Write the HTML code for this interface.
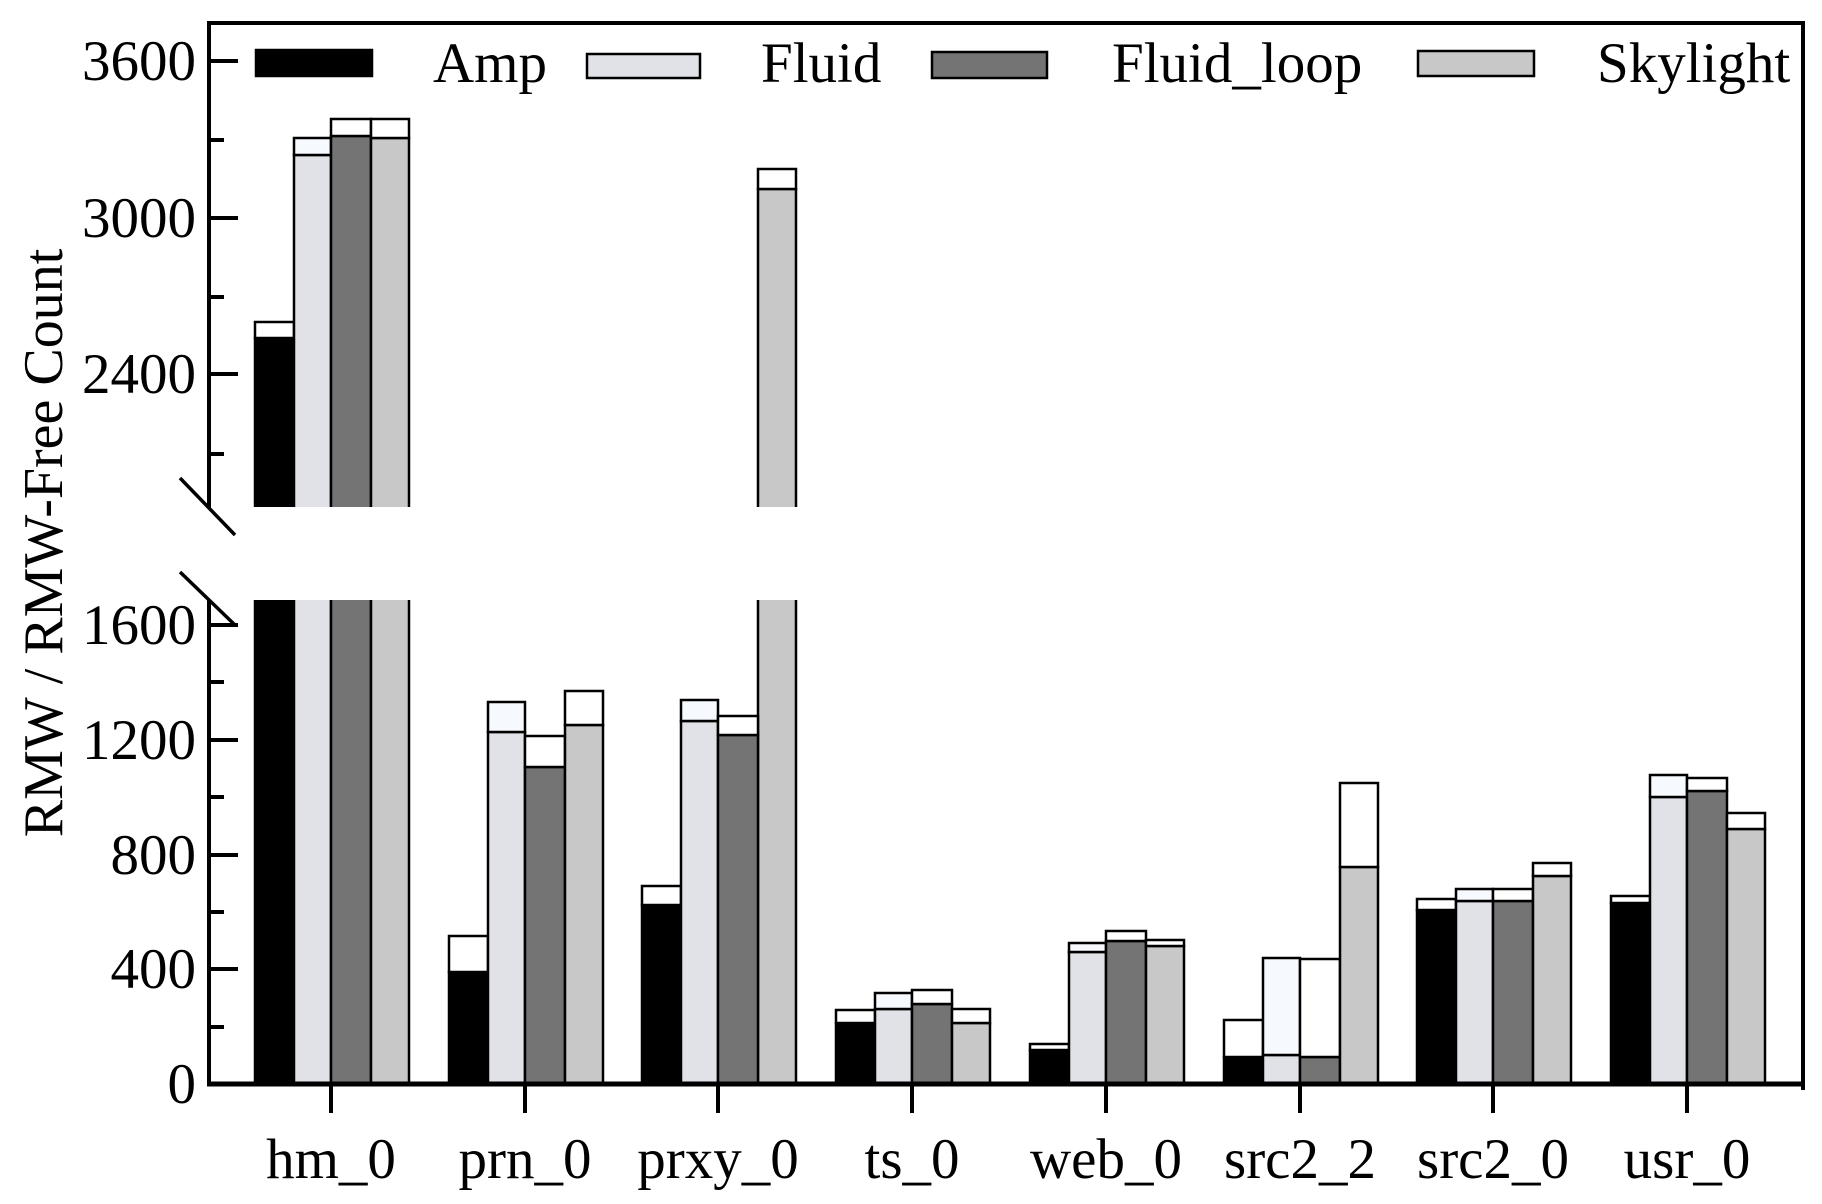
<!DOCTYPE html>
<html><head><meta charset="utf-8"><style>
html,body{margin:0;padding:0;background:#fff}
svg{display:block}
text{font-family:"Liberation Serif",serif;fill:#000}
</style></head><body>
<svg width="1822" height="1204" viewBox="0 0 1822 1204" xmlns="http://www.w3.org/2000/svg">
<defs>
<clipPath id="lo"><rect x="0" y="600" width="1822" height="600"/></clipPath>
<clipPath id="up"><rect x="0" y="0" width="1822" height="507"/></clipPath>
</defs>
<g stroke="#000" stroke-width="2.5">
<g clip-path="url(#up)">
<rect x="255" y="338" width="39" height="200" fill="#000"/><rect x="255" y="322" width="39" height="16" fill="#fff"/>
<rect x="294" y="155" width="37" height="400" fill="#e1e2e7"/><rect x="294" y="138" width="37" height="17" fill="#f6f9fd"/>
<rect x="331" y="136" width="40" height="400" fill="#747474"/><rect x="331" y="119" width="40" height="17" fill="#fff"/>
<rect x="371" y="138" width="38" height="400" fill="#c8c8c8"/><rect x="371" y="119" width="38" height="19" fill="#fff"/>
<rect x="758" y="189" width="38" height="400" fill="#c8c8c8"/><rect x="758" y="169" width="38" height="20" fill="#fff"/>
</g>
<g clip-path="url(#lo)">
<rect x="255" y="580" width="39" height="504" fill="#000"/>
<rect x="294" y="580" width="37" height="504" fill="#e1e2e7"/>
<rect x="331" y="580" width="40" height="504" fill="#747474"/>
<rect x="371" y="580" width="38" height="504" fill="#c8c8c8"/>
<rect x="758" y="580" width="38" height="504" fill="#c8c8c8"/>
</g>
<rect x="449" y="972" width="39" height="112" fill="#000"/><rect x="449" y="936" width="39" height="36" fill="#fff"/>
<rect x="488" y="732" width="37" height="352" fill="#e1e2e7"/><rect x="488" y="702" width="37" height="30" fill="#f6f9fd"/>
<rect x="525" y="767" width="40" height="317" fill="#747474"/><rect x="525" y="736" width="40" height="31" fill="#fff"/>
<rect x="565" y="725" width="38" height="359" fill="#c8c8c8"/><rect x="565" y="691" width="38" height="34" fill="#fff"/>
<rect x="642" y="905" width="39" height="179" fill="#000"/><rect x="642" y="886" width="39" height="19" fill="#fff"/>
<rect x="681" y="721" width="37" height="363" fill="#e1e2e7"/><rect x="681" y="700" width="37" height="21" fill="#f6f9fd"/>
<rect x="718" y="735" width="40" height="349" fill="#747474"/><rect x="718" y="716" width="40" height="19" fill="#fff"/>
<rect x="836" y="1023" width="39" height="61" fill="#000"/><rect x="836" y="1010" width="39" height="13" fill="#fff"/>
<rect x="875" y="1009" width="37" height="75" fill="#e1e2e7"/><rect x="875" y="993" width="37" height="16" fill="#f6f9fd"/>
<rect x="912" y="1004" width="40" height="80" fill="#747474"/><rect x="912" y="990" width="40" height="14" fill="#fff"/>
<rect x="952" y="1023" width="38" height="61" fill="#c8c8c8"/><rect x="952" y="1009" width="38" height="14" fill="#fff"/>
<rect x="1030" y="1050" width="39" height="34" fill="#000"/><rect x="1030" y="1044" width="39" height="6" fill="#fff"/>
<rect x="1069" y="952" width="37" height="132" fill="#e1e2e7"/><rect x="1069" y="943" width="37" height="9" fill="#f6f9fd"/>
<rect x="1106" y="941" width="40" height="143" fill="#747474"/><rect x="1106" y="931" width="40" height="10" fill="#fff"/>
<rect x="1146" y="946" width="38" height="138" fill="#c8c8c8"/><rect x="1146" y="940" width="38" height="6" fill="#fff"/>
<rect x="1224" y="1057" width="39" height="27" fill="#000"/><rect x="1224" y="1020" width="39" height="37" fill="#fff"/>
<rect x="1263" y="1055" width="37" height="29" fill="#e1e2e7"/><rect x="1263" y="958" width="37" height="97" fill="#f6f9fd"/>
<rect x="1300" y="1057" width="40" height="27" fill="#747474"/><rect x="1300" y="959" width="40" height="98" fill="#fff"/>
<rect x="1340" y="867" width="38" height="217" fill="#c8c8c8"/><rect x="1340" y="783" width="38" height="84" fill="#fff"/>
<rect x="1417" y="910" width="39" height="174" fill="#000"/><rect x="1417" y="899" width="39" height="11" fill="#fff"/>
<rect x="1456" y="901" width="37" height="183" fill="#e1e2e7"/><rect x="1456" y="889" width="37" height="12" fill="#f6f9fd"/>
<rect x="1493" y="901" width="40" height="183" fill="#747474"/><rect x="1493" y="889" width="40" height="12" fill="#fff"/>
<rect x="1533" y="876" width="38" height="208" fill="#c8c8c8"/><rect x="1533" y="863" width="38" height="13" fill="#fff"/>
<rect x="1611" y="903" width="39" height="181" fill="#000"/><rect x="1611" y="896" width="39" height="7" fill="#fff"/>
<rect x="1650" y="797" width="37" height="287" fill="#e1e2e7"/><rect x="1650" y="775" width="37" height="22" fill="#f6f9fd"/>
<rect x="1687" y="791" width="40" height="293" fill="#747474"/><rect x="1687" y="778" width="40" height="13" fill="#fff"/>
<rect x="1727" y="829" width="38" height="255" fill="#c8c8c8"/><rect x="1727" y="813" width="38" height="16" fill="#fff"/>
</g>
<g stroke="#000" fill="none">
<line x1="208" y1="23" x2="1804" y2="23" stroke-width="4"/>
<line x1="1803" y1="21" x2="1803" y2="1090" stroke-width="4"/>
<line x1="209" y1="21" x2="209" y2="508" stroke-width="4"/>
<line x1="209" y1="600" x2="209" y2="1086" stroke-width="4"/>
<line x1="207" y1="1084" x2="1805" y2="1084" stroke-width="5"/>
<line x1="180" y1="478" x2="235" y2="535" stroke-width="3.5"/>
<line x1="180" y1="572" x2="235" y2="625" stroke-width="3.5"/>
<g stroke-width="4">
<line x1="209" y1="61" x2="238" y2="61"/><line x1="209" y1="218" x2="238" y2="218"/><line x1="209" y1="374" x2="238" y2="374"/>
<line x1="209" y1="140" x2="224" y2="140"/><line x1="209" y1="297" x2="224" y2="297"/><line x1="209" y1="454" x2="224" y2="454"/>
<line x1="209" y1="625" x2="238" y2="625"/><line x1="209" y1="740" x2="238" y2="740"/><line x1="209" y1="855" x2="238" y2="855"/><line x1="209" y1="969" x2="238" y2="969"/>
<line x1="209" y1="682" x2="224" y2="682"/><line x1="209" y1="797" x2="224" y2="797"/><line x1="209" y1="912" x2="224" y2="912"/><line x1="209" y1="1027" x2="224" y2="1027"/>
<line x1="331" y1="1084" x2="331" y2="1113"/><line x1="525" y1="1084" x2="525" y2="1113"/><line x1="718" y1="1084" x2="718" y2="1113"/><line x1="912" y1="1084" x2="912" y2="1113"/>
<line x1="1106" y1="1084" x2="1106" y2="1113"/><line x1="1300" y1="1084" x2="1300" y2="1113"/><line x1="1493" y1="1084" x2="1493" y2="1113"/><line x1="1687" y1="1084" x2="1687" y2="1113"/>
</g>
</g>
<g font-size="57" text-anchor="end">
<text x="196" y="80">3600</text><text x="196" y="237">3000</text><text x="196" y="393">2400</text>
<text x="196" y="644">1600</text><text x="196" y="759">1200</text><text x="196" y="874">800</text><text x="196" y="988">400</text><text x="196" y="1103">0</text>
</g>
<g font-size="57" text-anchor="middle">
<text x="331" y="1178">hm_0</text><text x="525" y="1178">prn_0</text><text x="718" y="1178">prxy_0</text><text x="912" y="1178">ts_0</text>
<text x="1106" y="1178">web_0</text><text x="1300" y="1178">src2_2</text><text x="1493" y="1178">src2_0</text><text x="1687" y="1178">usr_0</text>
</g>
<text font-size="56" text-anchor="middle" transform="translate(62,543) rotate(-90)">RMW / RMW-Free Count</text>
<g stroke="#000" stroke-width="2.5">
<rect x="256" y="50" width="116" height="26" fill="#000"/>
<rect x="587" y="54" width="113" height="24" fill="#e1e2e7"/>
<rect x="932" y="52" width="115" height="26" fill="#747474"/>
<rect x="1418" y="51" width="116" height="25" fill="#c8c8c8"/>
</g>
<g font-size="57">
<text x="433" y="82">Amp</text><text x="761" y="82">Fluid</text><text x="1112" y="82">Fluid_loop</text><text x="1597" y="82">Skylight</text>
</g>
</svg>
</body></html>
